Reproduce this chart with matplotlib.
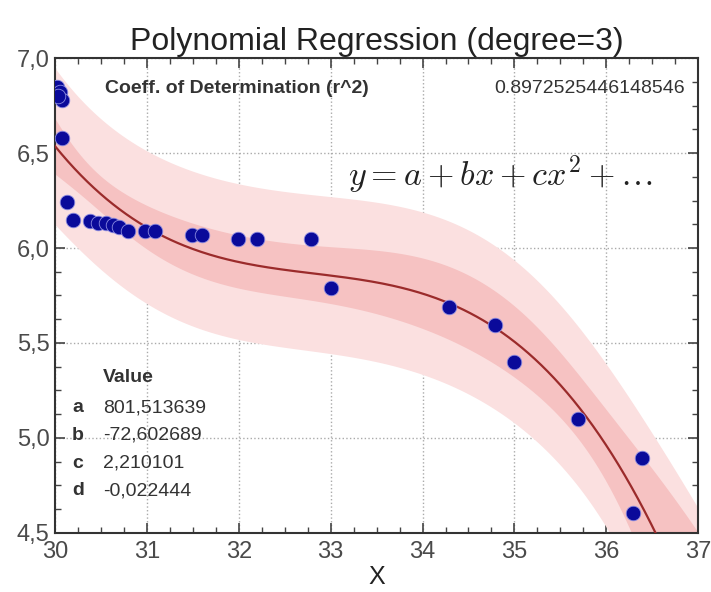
import numpy as np
import matplotlib.pyplot as plt
from matplotlib.ticker import MultipleLocator, FuncFormatter

plt.rcParams['font.family'] = ['Liberation Sans', 'DejaVu Sans']

# data points
x_pts = [30.02, 30.05, 30.08, 30.03, 30.08, 30.13, 30.20, 30.38, 30.47, 30.56,
         30.63, 30.70, 30.79, 30.98, 31.09, 31.49, 31.60, 31.99, 32.20, 32.79,
         33.00, 34.29, 34.79, 35.00, 35.69, 36.39, 36.29]
y_pts = [6.85, 6.82, 6.78, 6.80, 6.58, 6.24, 6.15, 6.14, 6.13, 6.13,
         6.12, 6.11, 6.09, 6.09, 6.09, 6.07, 6.07, 6.05, 6.05, 6.05,
         5.79, 5.69, 5.595, 5.40, 5.10, 4.895, 4.605]

# fitted coefficients shown on the chart
coef_names = ['a', 'b', 'c', 'd']
coef_vals = [801.513639, -72.602689, 2.210101, -0.022444]
coef_text = ['801,513639', '-72,602689', '2,210101', '-0,022444']
r2_text = '0.8972525446148546'

xp = np.array(x_pts)
yp = np.array(y_pts)

# model curve and confidence / prediction bands
xs = np.linspace(30, 37, 300)
Xs = np.vander(xs, 4, increasing=True)
ys = Xs @ np.array(coef_vals)
Xd = np.vander(xp, 4, increasing=True)
resid = yp - Xd @ np.array(coef_vals)
dof = len(xp) - 4
sigma = np.sqrt(np.sum(resid ** 2) / dof)
XtX_inv = np.linalg.inv(Xd.T @ Xd)
h = np.einsum('ij,jk,ik->i', Xs, XtX_inv, Xs)
t = 2.07
conf = t * sigma * np.sqrt(h)
pred = t * sigma * np.sqrt(1 + h)

fig = plt.figure(figsize=(7.11, 5.92), dpi=100)
ax = fig.add_axes([0.0774, 0.0997, 0.9046, 0.8023])

ax.fill_between(xs, ys - pred, ys + pred, color='#fbe0e0', lw=0, zorder=1)
ax.fill_between(xs, ys - conf, ys + conf, color='#f6c2c2', lw=0, zorder=2)
ax.plot(xs, ys, color='#9b2b2b', lw=1.6, zorder=3)
ax.scatter(xp, yp, s=110, color='#0a0a9a', edgecolor='#8a8ae0', lw=0.6, zorder=4)

ax.set_xlim(30, 37)
ax.set_ylim(4.5, 7.0)
ax.xaxis.set_major_locator(MultipleLocator(1))
ax.xaxis.set_minor_locator(MultipleLocator(0.25))
ax.yaxis.set_major_locator(MultipleLocator(0.5))
ax.yaxis.set_minor_locator(MultipleLocator(0.125))
ax.yaxis.set_major_formatter(FuncFormatter(lambda v, p: f'{v:.1f}'.replace('.', ',')))
ax.tick_params(which='both', direction='in', top=True, right=True, colors='#444444',
               labelsize=17, labelcolor='#4a4a4a')
ax.tick_params(which='major', length=7, width=1.2)
ax.tick_params(which='minor', length=4, width=1)
ax.tick_params(axis='x', pad=6)
ax.tick_params(axis='y', pad=4)
for s in ax.spines.values():
    s.set_color('#333333')
    s.set_linewidth(1.5)
ax.grid(True, which='major', ls=':', color='#aaaaaa', lw=1)
ax.set_axisbelow(True)

ax.set_title('Polynomial Regression (degree=3)', fontsize=23, color='#222222', pad=6)
ax.set_xlabel('X', fontsize=18, color='#222222', labelpad=1)

ax.text(0.078, 0.935, 'Coeff. of Determination (r^2)', transform=ax.transAxes,
        fontsize=14, fontweight='bold', color='#333333', va='center')
ax.text(0.98, 0.935, r2_text, transform=ax.transAxes, fontsize=14,
        color='#333333', va='center', ha='right')
ax.text(0.455, 0.755, r'$y = a + bx + cx^2 + \ldots$', transform=ax.transAxes,
        fontsize=24.5, color='#222222', va='center', math_fontfamily='cm')

fig_w, fig_h = 711, 592
fig.text(103 / fig_w, 1 - 377 / fig_h, 'Value', fontsize=14, fontweight='bold',
         color='#333333', va='center')
for i, (n, v) in enumerate(zip(coef_names, coef_text)):
    yy = 408 + i * 27.5
    fig.text(72 / fig_w, 1 - yy / fig_h, n, fontsize=14, fontweight='bold',
             color='#333333', va='center')
    fig.text(103 / fig_w, 1 - yy / fig_h, v, fontsize=14, color='#333333', va='center')

fig.savefig('out.png', dpi=100)
